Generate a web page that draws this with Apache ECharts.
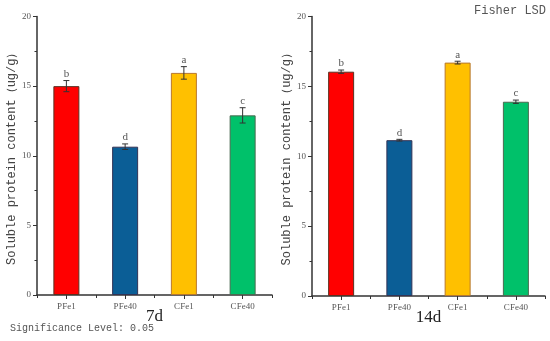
<!DOCTYPE html>
<html><head><meta charset="utf-8">
<script src="https://cdn.jsdelivr.net/npm/echarts@6/dist/echarts.min.js"></script>
<style>html,body{margin:0;padding:0;background:#fff}#c{width:550px;height:341px}</style>
</head><body><div id="c"></div>
<script>
const categories = ['PFe1', 'PFe40', 'CFe1', 'CFe40'];
const values7d = [15.0, 10.65, 15.95, 12.9];
const errors7d = [0.4, 0.2, 0.45, 0.55];
const letters7d = ['b', 'd', 'a', 'c'];
const values14d = [16.05, 11.15, 16.7, 13.9];
const errors14d = [0.12, 0.06, 0.1, 0.12];
const letters14d = ['b', 'd', 'a', 'c'];
const yTicks = [0, 5, 10, 15, 20];
const barColors = ['#FF0000', '#0B5E96', '#FFC000', '#00C16A'];
const barBorders = ['#5a3020', '#333355', '#B8782E', '#4a6a50'];

const chart = echarts.init(document.getElementById('c'));
const serif = 'Liberation Serif';
const mono = 'Liberation Mono';
const axisColor = '#333';

function yAxis(gi) {
  return {
    type: 'value', gridIndex: gi, min: yTicks[0], max: yTicks[yTicks.length - 1], interval: 5,
    name: 'Soluble protein content（ug/g）', nameLocation: 'middle', nameGap: 19,
    nameMoveOverlap: false,
    nameTextStyle: {fontFamily: mono, fontSize: 12, color: '#444'},
    axisLine: {show: true, lineStyle: {color: axisColor, width: 1.5}},
    axisTick: {show: true, inside: false, length: 4, lineStyle: {color: axisColor}},
    minorTick: {show: true, splitNumber: 2, length: 2.5, lineStyle: {color: axisColor}},
    splitLine: {show: false},
    axisLabel: {fontFamily: serif, fontSize: 9, color: '#555', margin: 6}
  };
}
function xAxis(gi, name) {
  return {
    type: 'category', gridIndex: gi, data: categories, name: name,
    nameLocation: 'middle', nameGap: 13, nameMoveOverlap: false,
    nameTextStyle: {fontFamily: serif, fontSize: 17, color: '#222'},
    axisLine: {show: true, lineStyle: {color: axisColor, width: 1.5}},
    axisTick: {show: true, alignWithLabel: true, length: 4, lineStyle: {color: axisColor}},
    axisLabel: {fontFamily: serif, fontSize: 9, color: '#555', margin: 7}
  };
}
function xAxisMinor(gi) {
  return {
    type: 'category', gridIndex: gi, data: categories, position: 'bottom',
    axisLine: {show: false}, axisLabel: {show: false},
    axisTick: {show: true, length: 3, lineStyle: {color: axisColor}}
  };
}
function barSeries(xi, yi, vals) {
  return {
    type: 'bar', xAxisIndex: xi, yAxisIndex: yi, barWidth: 26,
    data: vals.map((v, i) => ({value: v, itemStyle: {color: barColors[i], borderColor: barBorders[i], borderWidth: 1}})),
    z: 2
  };
}
function errSeries(xi, yi, vals, errs, letters) {
  return {
    type: 'custom', xAxisIndex: xi, yAxisIndex: yi, z: 5,
    data: vals.map((v, i) => [i, v, errs[i], letters[i]]),
    renderItem: function (params, api) {
      const x = api.value(0), v = api.value(1), e = api.value(2);
      const top = api.coord([x, v + e]);
      const bot = api.coord([x, v - e]);
      const hw = 3;
      return {
        type: 'group', children: [
          {type: 'line', shape: {x1: top[0], y1: top[1], x2: bot[0], y2: bot[1]}, style: {stroke: '#333', lineWidth: 1}},
          {type: 'line', shape: {x1: top[0] - hw, y1: top[1], x2: top[0] + hw, y2: top[1]}, style: {stroke: '#333', lineWidth: 1}},
          {type: 'line', shape: {x1: bot[0] - hw, y1: bot[1], x2: bot[0] + hw, y2: bot[1]}, style: {stroke: '#333', lineWidth: 1}},
          {type: 'text', x: top[0], y: top[1] - 1, style: {text: api.value(3), textAlign: 'center', textVerticalAlign: 'bottom', fontFamily: serif, fontSize: 11, fill: '#555'}}
        ]
      };
    }
  };
}

chart.setOption({
  animation: false,
  grid: [
    {left: 37, right: 278, top: 16.5, bottom: 46},
    {left: 312, right: 5, top: 16.5, bottom: 45}
  ],
  xAxis: [xAxis(0, '7d'), xAxis(1, '14d'), xAxisMinor(0), xAxisMinor(1)],
  yAxis: [yAxis(0), yAxis(1)],
  series: [
    barSeries(0, 0, values7d),
    barSeries(1, 1, values14d),
    errSeries(0, 0, values7d, errors7d, letters7d),
    errSeries(1, 1, values14d, errors14d, letters14d)
  ],
  graphic: [
    {type: 'text', left: 10, top: 323, style: {text: 'Significance Level: 0.05', fontFamily: mono, fontSize: 10, fill: '#555'}},
    {type: 'text', right: 4, top: 5, style: {text: 'Fisher LSD', fontFamily: mono, fontSize: 12, fill: '#555'}}
  ]
});
</script></body></html>
